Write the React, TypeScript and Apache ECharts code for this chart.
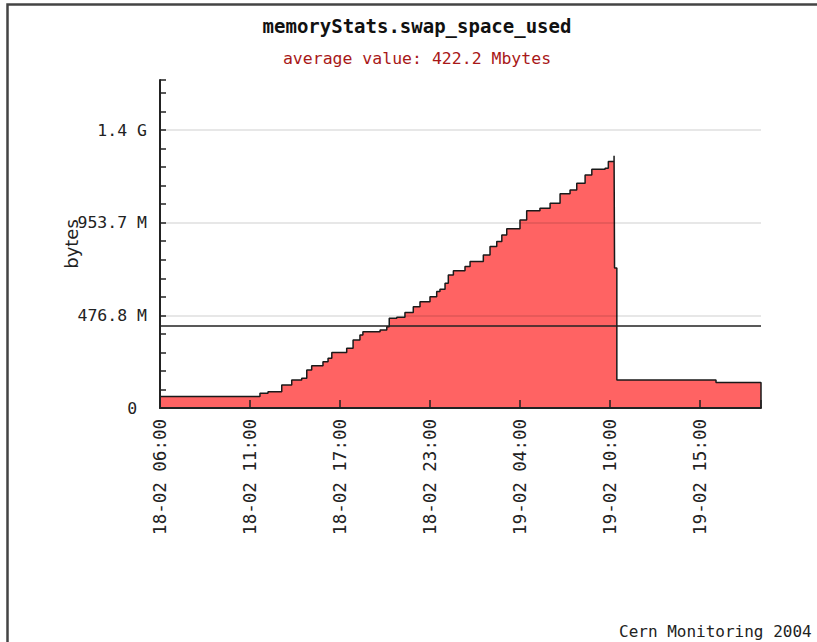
import { useEffect, useRef } from 'react';
import * as echarts from 'echarts';

// ---- data ----
const titleText = 'memoryStats.swap_space_used';
const averageMiB = 422.2;
const footerText = 'Cern Monitoring 2004';
const yAxisName = 'bytes';

// x tick labels, one every 5.5 h starting 18-02 06:00
const tickLabels = [
  '18-02 06:00',
  '18-02 11:00',
  '18-02 17:00',
  '18-02 23:00',
  '19-02 04:00',
  '19-02 10:00',
  '19-02 15:00',
];
const tickStepHours = 5.5;
const xMaxHours = 36.73;

// time in hours since 18-02 06:00
const hours = [
  0, 6.11, 6.6, 7.44, 8.05, 8.66, 8.97, 9.27, 9.96, 10.27, 10.5, 11.41, 11.8,
  12.22, 12.4, 13.45, 13.86, 14.01, 14.47, 14.97, 15.48, 15.89, 16.5, 16.91,
  17.11, 17.42, 17.62, 17.93, 18.64, 18.95, 19.76, 20.17, 20.58, 20.89, 21.19,
  22.0, 22.41, 23.22, 23.84, 24.45, 25.06, 25.47, 25.98, 26.39, 27.2, 27.4,
  27.75, 27.78, 27.92, 33.98, 36.73,
];
// swap used, in MB (10^6 bytes)
const valuesMB = [
  62, 79, 88, 124, 151, 160, 205, 228, 250, 268, 299, 322, 367, 394, 412, 421,
  439, 484, 490, 515, 547, 574, 601, 628, 641, 673, 718, 741, 763, 790, 826,
  871, 898, 934, 967, 1015, 1065, 1078, 1105, 1156, 1177, 1213, 1258, 1289,
  1294, 1330, 1361, 756, 151, 137, 0,
];

const yMaxMB = 1770;
const yMinorStepMB = 100;
const yMajorStepMB = 500;

const mono = '"DejaVu Sans Mono", monospace';

function formatBytesMB(v: number): string {
  if (Math.abs(v % yMajorStepMB) > 1e-6) return '';
  if (v === 0) return '0\u00a0';
  const mib = (v * 1e6) / 1048576;
  if (mib >= 1024) return (mib / 1024).toFixed(1) + ' G';
  return mib.toFixed(1) + ' M';
}

function formatX(v: number): string {
  const idx = Math.round(v / tickStepHours);
  if (Math.abs(v - idx * tickStepHours) > 1e-6) return '';
  return tickLabels[idx] ?? '';
}

export default function App() {
  const ref = useRef<HTMLDivElement>(null);

  useEffect(() => {
    if (!ref.current) return;
    const chart = echarts.init(ref.current, undefined, { renderer: 'svg' });
    const averageMB = (averageMiB * 1048576) / 1e6;

    const option: any = {
      animation: false,
      backgroundColor: '#ffffff',
      grid: { left: 160, right: 56, top: 80, bottom: 234, containLabel: false },
      xAxis: {
        type: 'value',
        min: 0,
        max: xMaxHours,
        interval: tickStepHours,
        z: 4,
        axisLine: { show: true, onZero: false, lineStyle: { color: '#222', width: 2 } },
        axisTick: { show: true, inside: true, length: 8, lineStyle: { color: '#222', width: 1.5 } },
        axisLabel: {
          rotate: 90,
          margin: 11,
          fontFamily: mono,
          fontSize: 17.5,
          color: '#222',
          formatter: formatX,
          hideOverlap: false,
        },
        splitLine: { show: false },
      },
      yAxis: [
        {
          type: 'value',
          min: 0,
          max: yMaxMB,
          interval: yMinorStepMB,
          z: 4,
          name: yAxisName,
          nameLocation: 'middle',
          nameGap: 80,
          nameMoveOverlap: false,
          nameTextStyle: { fontFamily: '"DejaVu Sans", sans-serif', fontSize: 18, color: '#222' },
          axisLine: { show: true, onZero: false, lineStyle: { color: '#222', width: 2 } },
          axisTick: { show: true, inside: true, length: 6, lineStyle: { color: '#222', width: 1.5 } },
          axisLabel: {
            margin: 13,
            fontFamily: mono,
            fontSize: 16.5,
            color: '#222',
            formatter: formatBytesMB,
            hideOverlap: false,
          },
          splitLine: { show: false },
        },
        {
          type: 'value',
          min: 0,
          max: yMaxMB,
          interval: yMajorStepMB,
          position: 'left',
          z: 3,
          axisLine: { show: false },
          axisTick: { show: false },
          axisLabel: { show: false },
          splitLine: {
            show: true,
            showMinLine: false,
            showMaxLine: false,
            lineStyle: { color: 'rgba(0,0,0,0.13)', width: 1.5 },
          },
        },
      ],
      series: [
        {
          type: 'line',
          step: 'end',
          data: hours.map((h, i) => [h, valuesMB[i]]),
          symbol: 'none',
          z: 2,
          lineStyle: { color: '#1a1a1a', width: 1.5 },
          areaStyle: { color: '#ff6363', opacity: 1 },
          markLine: {
            silent: true,
            symbol: ['none', 'none'],
            label: { show: false },
            lineStyle: { color: '#222', width: 1.5, type: 'solid' },
            data: [{ yAxis: averageMB }],
          },
        },
      ],
      graphic: [
        {
          type: 'polyline',
          shape: { points: [[7.5, 642], [7.5, 4.5], [817, 4.5]] },
          style: { stroke: '#444', lineWidth: 2.5, fill: 'none' },
          silent: true,
        },
        {
          type: 'text',
          x: 417,
          y: 26,
          style: {
            text: titleText,
            font: 'bold 19px "DejaVu Sans Mono", monospace',
            fill: '#111',
            textAlign: 'center',
            textVerticalAlign: 'middle',
          },
        },
        {
          type: 'text',
          x: 417,
          y: 58,
          style: {
            text: 'average value: ' + averageMiB.toFixed(1) + ' Mbytes',
            font: '16.5px "DejaVu Sans Mono", monospace',
            fill: '#a81818',
            textAlign: 'center',
            textVerticalAlign: 'middle',
          },
        },
        {
          type: 'text',
          x: 619,
          y: 631,
          style: {
            text: footerText,
            font: '16px "DejaVu Sans Mono", monospace',
            fill: '#222',
            textAlign: 'left',
            textVerticalAlign: 'middle',
          },
        },
      ],
    };

    chart.setOption(option);
    return () => chart.dispose();
  }, []);

  return (
    <div
      ref={ref}
      style={{ position: 'absolute', left: 0, top: 0, width: 817, height: 642 }}
    />
  );
}
